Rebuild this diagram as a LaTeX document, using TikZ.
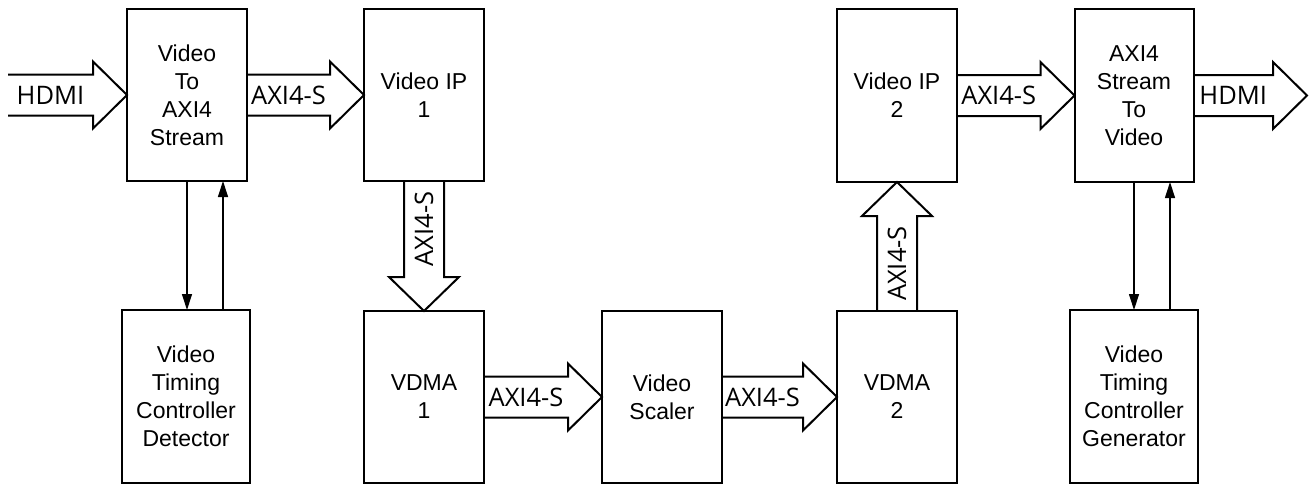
\documentclass[tikz,border=0pt]{standalone}
\usepackage{fontspec}
\setmainfont{Liberation Sans}
\newfontfamily\lblfont{Open Sans}
\usetikzlibrary{calc,arrows.meta}
\tikzset{
  box/.style={draw, line width=2pt, minimum width=120pt, minimum height=172pt, align=center, inner sep=0pt, outer sep=0pt, font=\fontsize{23}{28}\selectfont},
  blk/.style={draw, line width=2pt, line join=miter},
  lbl/.style={inner sep=0pt, font=\lblfont\fontsize{25.5}{28}\selectfont},
  sig/.style={draw, line width=1.2pt, -{Triangle[length=16pt,width=10pt]}}
}
% horizontal block arrow: tail point, tip point, label, label name
\newcommand\harr[4]{%
  \draw[blk] let \p1=(#1), \p2=(#2) in
    (\x1,\y2+20.5pt) -- (\x2-34pt,\y2+20.5pt) -- (\x2-34pt,\y2+33.5pt) -- (\x2,\y2)
    -- (\x2-34pt,\y2-33.5pt) -- (\x2-34pt,\y2-20.5pt) -- (\x1,\y2-20.5pt);
  \node[lbl] (#4) at ($(#1)!0.5!(#2)+(-17pt,0)$) {#3};
}
% vertical block arrow: tail point, tip point, signed head length, label, label name
\newcommand\varr[5]{%
  \draw[blk] let \p1=(#1), \p2=(#2) in
    (\x2-20pt,\y1) -- (\x2-20pt,\y2+#3pt) -- (\x2-35pt,\y2+#3pt) -- (\x2,\y2)
    -- (\x2+35pt,\y2+#3pt) -- (\x2+20pt,\y2+#3pt) -- (\x2+20pt,\y1);
  \node[lbl, rotate=90] (#5) at ($(#1)!0.5!(#2)+(0,#3pt/2)$) {#4};
}
\begin{document}
\begin{tikzpicture}[x=1pt,y=-1pt]
\useasboundingbox (0,0) rectangle (1310,485);
% boxes
\node[box] (b1) at (187,95) {Video\\To\\AXI4\\Stream};
\node[box] (ip1) at (424,95) {Video IP\\1};
\node[box, minimum width=128pt, minimum height=173pt] (vtcd) at (186,396.5) {Video\\Timing\\Controller\\Detector};
\node[box] (vdma1) at (424,397) {VDMA\\1};
\node[box] (sc) at (662,397) {Video\\Scaler};
\node[box] (vdma2) at (897,397) {VDMA\\2};
\node[box, minimum height=173pt] (ip2) at (897,95.5) {Video IP\\2};
\node[box, minimum width=119pt, minimum height=173pt] (b2) at (1134,95.5) {AXI4\\Stream\\To\\Video};
\node[box, minimum width=128pt, minimum height=173pt] (vtcg) at (1134,396.5) {Video\\Timing\\Controller\\Generator};
% free ends
\coordinate (hin) at (8,95);
\coordinate (hout) at (1307,95.5);
% block arrows
\harr{hin}{b1.west}{HDMI}{l1}
\harr{b1.east}{ip1.west}{AXI4-S}{l2}
\varr{ip1.south}{vdma1.north}{34}{AXI4-S}{l3}
\harr{vdma1.east}{sc.west}{AXI4-S}{l4}
\harr{sc.east}{vdma2.west}{AXI4-S}{l5}
\varr{vdma2.north}{ip2.south}{-34}{AXI4-S}{l6}
\harr{ip2.east}{b2.west}{AXI4-S}{l7}
\harr{b2.east}{hout}{HDMI}{l8}
% timing signals
\coordinate (d1) at ([xshift=36pt]b1.south);
\coordinate (g1) at ([xshift=36pt]b2.south);
\draw[sig] (b1.south) -- (b1.south |- vtcd.north);
\draw[sig] (d1 |- vtcd.north) -- (d1);
\draw[sig] (b2.south) -- (b2.south |- vtcg.north);
\draw[sig] (g1 |- vtcg.north) -- (g1);
\end{tikzpicture}
\end{document}
